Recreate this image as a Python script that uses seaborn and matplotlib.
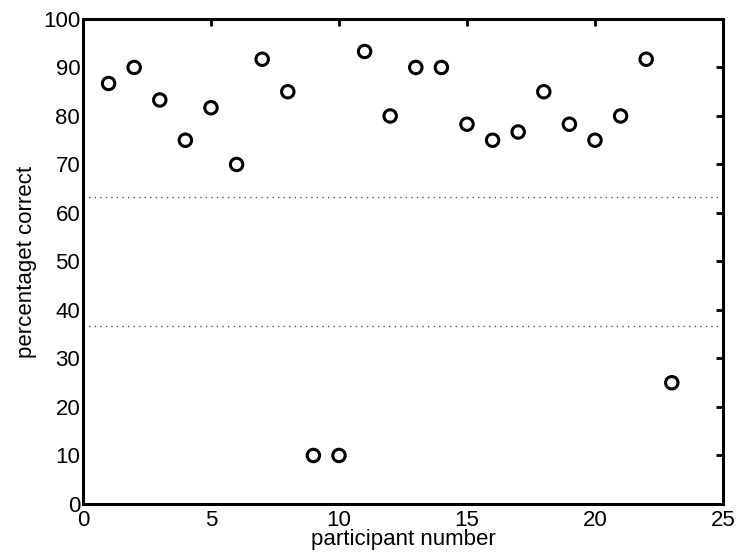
import matplotlib
matplotlib.use('Agg')
import matplotlib.pyplot as plt
import seaborn as sns
import pandas as pd

participants = list(range(1, 24))
percent_correct = [86.7, 90.0, 83.3, 75.0, 81.7, 70.0, 91.7, 85.0, 10.0, 10.0,
                   93.3, 80.0, 90.0, 90.0, 78.3, 75.0, 76.7, 85.0, 78.3, 75.0,
                   80.0, 91.7, 25.0]
chance_bounds = [63.3, 36.7]
xticks = [0, 5, 10, 15, 20, 25]
yticks = [0, 10, 20, 30, 40, 50, 60, 70, 80, 90, 100]

sns.set_style('white')
plt.rcParams['font.family'] = ['Liberation Sans', 'DejaVu Sans']
plt.rcParams['text.color'] = 'black'
plt.rcParams['axes.labelcolor'] = 'black'

df = pd.DataFrame({'participant number': participants,
                   'percentaget correct': percent_correct})

fig = plt.figure(figsize=(7.37, 5.58), dpi=100)
ax = fig.add_axes([0.1126, 0.0968, 0.8684, 0.8692])

sns.scatterplot(data=df, x='participant number', y='percentaget correct',
                marker='o', s=80, facecolor='none', edgecolor='black',
                linewidth=2.2, ax=ax, zorder=3)

for b in chance_bounds:
    ax.axhline(b, color='#555555', linestyle=(0, (1, 3)), linewidth=1.0, zorder=1)

ax.set_xlim(0, 25)
ax.set_ylim(0, 100)
ax.set_xticks(xticks)
ax.set_yticks(yticks)
ax.tick_params(direction='in', length=5, width=2, top=True, right=True,
               labelsize=16, colors='black')
ax.tick_params(axis='x', pad=4)
ax.tick_params(axis='y', pad=2)
for spine in ax.spines.values():
    spine.set_visible(True)
    spine.set_linewidth(2.2)
    spine.set_color('black')

ax.set_xlabel('participant number', fontsize=16, labelpad=-1, color='black')
ax.set_ylabel('percentaget correct', fontsize=16, labelpad=4, color='black')

plt.savefig('out.png', dpi=100)
plt.close()
